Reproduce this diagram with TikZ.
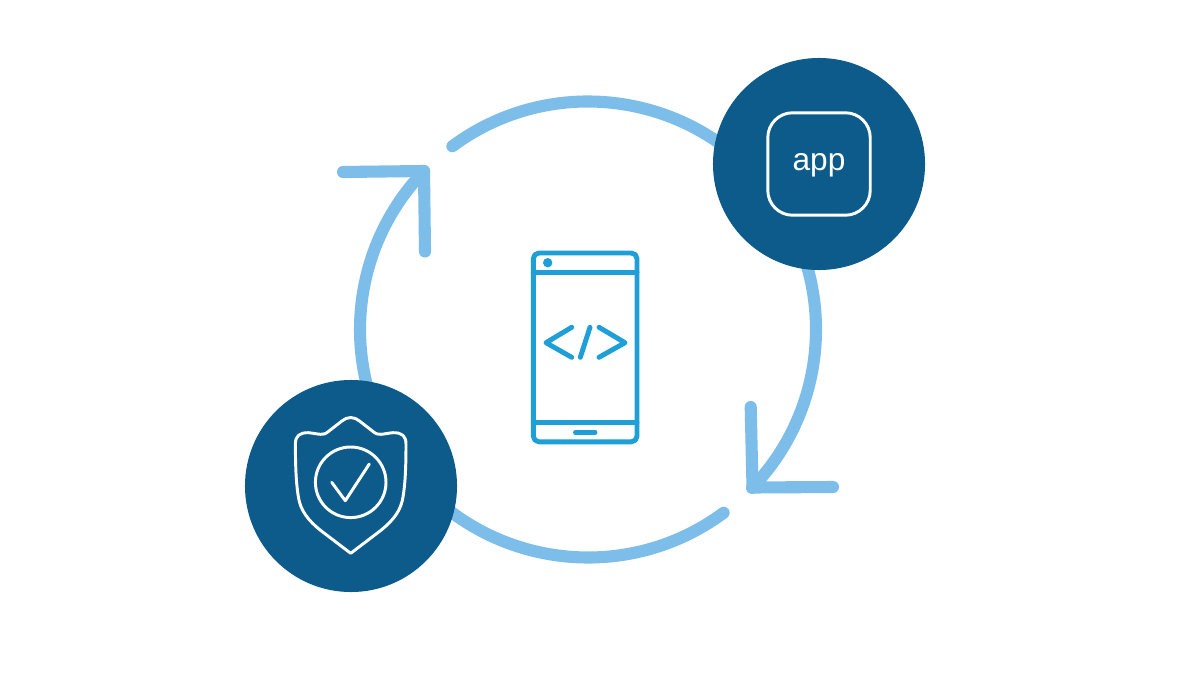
\documentclass[tikz,border=0pt]{standalone}
\usepackage{fontspec}
\setsansfont{Liberation Sans}
\usetikzlibrary{positioning}
\definecolor{ringblue}{HTML}{7DBDEA}
\definecolor{darkblue}{HTML}{0C5B8B}
\definecolor{phoneblue}{HTML}{1F9FD8}

\begin{document}
\begin{tikzpicture}[
    x=0.025cm,
    y=-0.025cm,
    every node/.style={font=\sffamily},
    ringline/.style={ringblue, line width=8.6pt, line cap=round, line join=round},
    phoneline/.style={phoneblue, line width=3.5pt, line cap=round, line join=round},
    iconline/.style={white, line width=2.1pt, line cap=round, line join=round},
    badge/.style={circle, fill=darkblue, minimum size=5.3cm, inner sep=0pt}
]
    % Page
    \fill[white] (0,0) rectangle (1200,675);

    % Named ends of the two arrows
    \coordinate (tipright) at (752.5,487.5);
    \coordinate (tipleft) at (424,171);

    % Ring arcs
    \draw[ringline] (588,329.5) ++(-126.5:228) arc[start angle=-126.5, end angle=44, radius=228];
    \draw[ringline] (588,329.5) ++(53.5:228) arc[start angle=53.5, end angle=224, radius=228];

    % Arrow heads
    \draw[ringline] (750.7,407) -- (tipright) -- (833,487);
    \draw[ringline] (343,172) -- (tipleft) -- (425,251.5);

    % Dark badges
    \node[badge] (appbadge) at (819,164) {};
    \node[badge] (shieldbadge) at (351,486) {};

    % App icon
    \node[draw=white, line width=2.1pt, rounded corners=0.62cm,
        minimum size=2.56cm, inner sep=0pt] (appicon) at (appbadge) {};
    \node[text=white, inner sep=0pt, font=\sffamily\fontsize{22.5}{26}\selectfont] (applabel) at (819,165.5) {app};

    % Shield outline
    \draw[iconline] (350.7,417.5) .. controls (354,417.5) and (357,419) .. (359.5,421)
        -- (373,431.5) .. controls (376,434) and (378,434.5) .. (381,434.3)
        .. controls (385,434) and (389,433) .. (393,432.7)
        .. controls (402,432.5) and (406,436) .. (406,444)
        .. controls (406,470) and (405,485) .. (403,497)
        .. controls (401,510) and (394,520) .. (380,531)
        -- (350.7,553.3) -- (321.4,531)
        .. controls (307.4,520) and (300.4,510) .. (298.4,497)
        .. controls (296.4,485) and (295.4,470) .. (295.4,444)
        .. controls (295.4,436) and (299.4,432.5) .. (308.4,432.7)
        .. controls (312.4,433) and (316.4,434) .. (320.4,434.3)
        .. controls (323.4,434.5) and (325.4,434) .. (328.4,431.5)
        -- (341.9,421) .. controls (344.4,419) and (347.4,417.5) .. (350.7,417.5) -- cycle;

    % Check mark in the shield
    \draw[iconline] (350.7,482.3) circle[radius=35.3];
    \draw[iconline] (331.7,482.3) -- (345.3,500.7) -- (369.3,464);

    % Phone body
    \draw[phoneline, rounded corners=4pt] (533.3,253) rectangle (637,441.8);
    \draw[phoneline] (533.3,272.3) -- (637,272.3);
    \draw[phoneline] (533.3,422.7) -- (637,422.7);
    \fill[phoneblue] (547.7,262.7) circle[radius=4.7];
    \draw[phoneline] (575.5,432.3) -- (595,432.3);

    % Code brackets
    \draw[phoneline] (571.7,327.3) -- (546,342.7) -- (571.7,357.3);
    \draw[phoneline] (590,327.3) -- (580.3,357.3);
    \draw[phoneline] (599,327.3) -- (625,342.7) -- (599,357.3);
\end{tikzpicture}
\end{document}
